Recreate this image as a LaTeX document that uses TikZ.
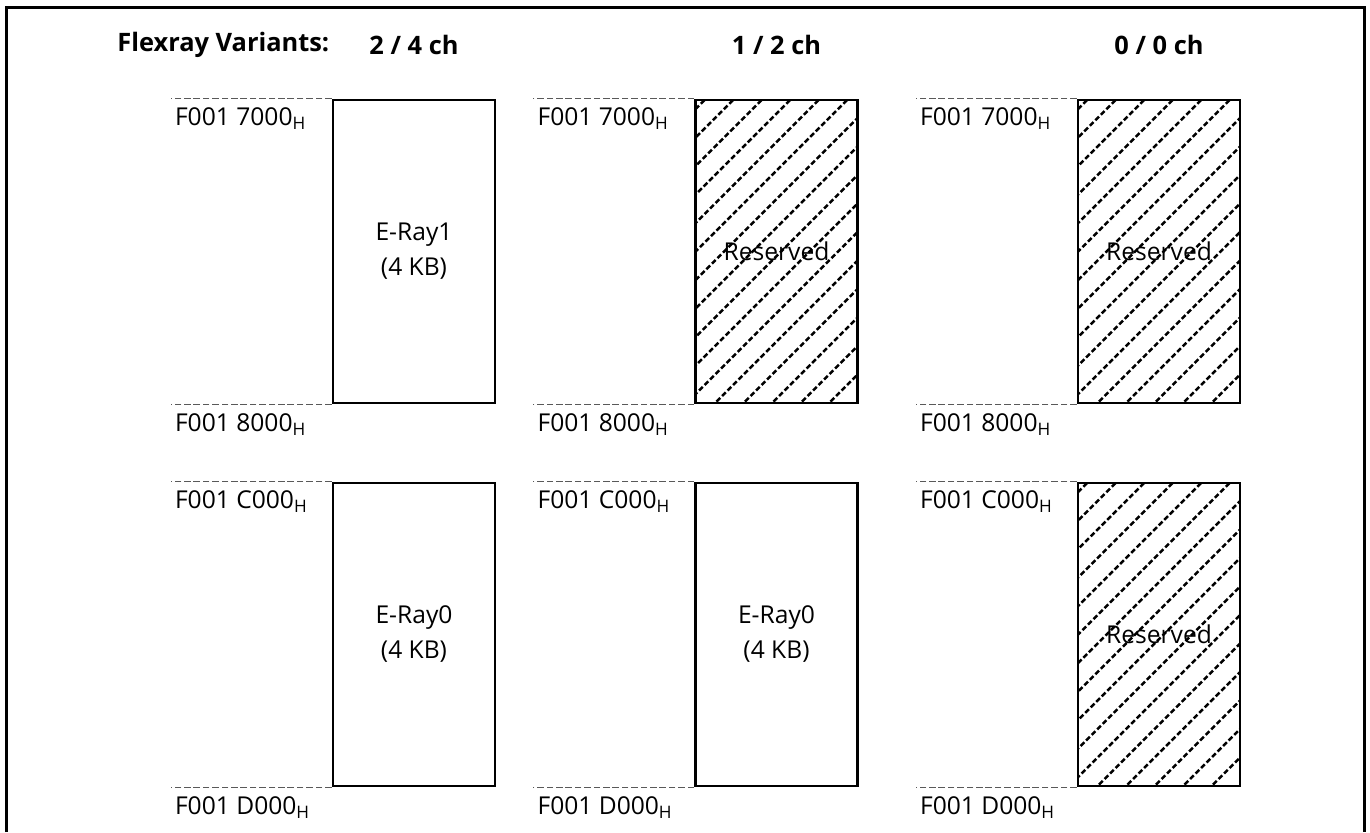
\documentclass[tikz,border=0pt]{standalone}
\usepackage{fontspec}
\setmainfont{Open Sans}
\usepackage{tikz}

\begin{document}
\begin{tikzpicture}[x=0.5pt, y=-0.5pt,
				font=\fontsize{12.3}{17.5}\selectfont,
				speicher/.style={draw, line width=1.35pt, minimum width=81pt, minimum height=151.5pt, inner sep=0pt, align=center},
				schraffur/.style={line width=1.25pt, dash pattern=on 2.6pt off 1.3pt},
				reserviert/.style={path picture={
					\foreach \k in {0,...,16}
						\draw[schraffur] ([xshift=4.5pt+\k*14.25pt]path picture bounding box.north west) -- ++(-330,330);}},
				adresse/.style={draw=black!65, line width=0.6pt, dash pattern=on 3.3pt off 1.4pt},
				adrtext/.style={anchor=base west, inner sep=0pt},
				titel/.style={font=\fontsize{12.7}{14}\selectfont\bfseries}]
				\useasboundingbox (0,0) rectangle (1370,832);
				%Rahmen zeichnen
				\draw[line width=1.5pt] (6,832) -- (6,7) -- (1364,7) -- (1364,832);
				%Ueberschrift
				\node[titel, anchor=west, inner sep=0pt] (titel) at (117,45) {Flexray Variants:};
				\node[titel] (v1) at (414,45) {2 / 4 ch};
				\node[titel] (v2) at (776.5,45) {1 / 2 ch};
				\node[titel] (v3) at (1159,45) {0 / 0 ch};
				%Speicherbereiche
				\node[speicher] (s11) at (414,251.5) {E-Ray1\\(4 KB)};
				\node[speicher] (s12) at (414,634.5) {E-Ray0\\(4 KB)};
				\node[speicher, reserviert] (s21) at (776.5,251.5) {Reserved};
				\node[speicher] (s22) at (776.5,634.5) {E-Ray0\\(4 KB)};
				\node[speicher, reserviert] (s31) at (1159,251.5) {Reserved};
				\node[speicher, reserviert] (s32) at (1159,634.5) {Reserved};
				%Adressen
				\foreach \s in {1,2,3}{
					\draw[adresse] (s\s1.north west) -- ++(-161,0) coordinate (l\s1o);
					\draw[adresse] (s\s1.south west) -- ++(-161,0) coordinate (l\s1u);
					\draw[adresse] (s\s2.north west) -- ++(-161,0) coordinate (l\s2o);
					\draw[adresse] (s\s2.south west) -- ++(-161,0) coordinate (l\s2u);
					\node[adrtext] (t\s1o) at ([xshift=2pt, yshift=-13.5pt]l\s1o) {F001 7000\textsubscript{H}};
					\node[adrtext] (t\s1u) at ([xshift=2pt, yshift=-13.5pt]l\s1u) {F001 8000\textsubscript{H}};
					\node[adrtext] (t\s2o) at ([xshift=2pt, yshift=-13.5pt]l\s2o) {F001 C000\textsubscript{H}};
					\node[adrtext] (t\s2u) at ([xshift=2pt, yshift=-13.5pt]l\s2u) {F001 D000\textsubscript{H}};
				}
			\end{tikzpicture}
\end{document}
